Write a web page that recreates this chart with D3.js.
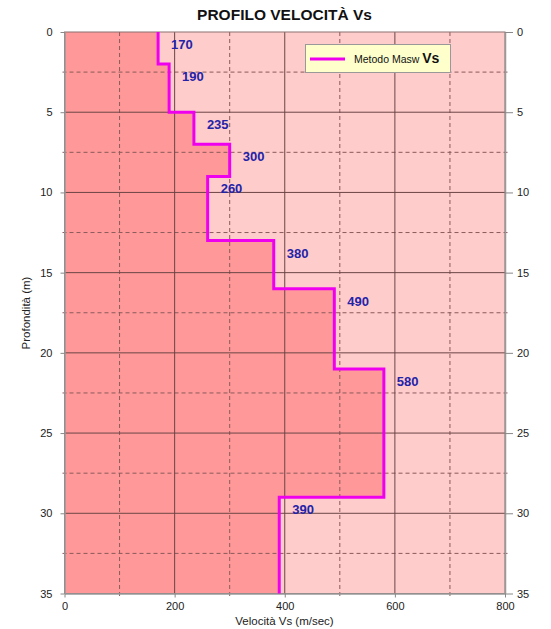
<!DOCTYPE html>
<html><head><meta charset="utf-8">
<script src="https://cdn.jsdelivr.net/npm/d3@7"></script>
<style>body{margin:0;background:#fff;} svg{display:block;font-family:"Liberation Sans",Arial,sans-serif;}</style>
</head><body>
<svg id="c" width="551" height="629"></svg>
<script>
// Data
const layerTop = [0, 2, 5, 7, 9, 13, 16, 21, 29];
const layerBottom = [2, 5, 7, 9, 13, 16, 21, 29, 35];
const vsValues = [170, 190, 235, 300, 260, 380, 490, 580, 390];
const xTicks = [0, 200, 400, 600, 800];
const xMinor = [100, 300, 500, 700];
const yTicks = [0, 5, 10, 15, 20, 25, 30, 35];
const yMinor = [2.5, 7.5, 12.5, 17.5, 22.5, 27.5, 32.5];
const titleText = "PROFILO VELOCITÀ Vs";
const xTitle = "Velocità Vs (m/sec)";
const yTitle = "Profondità (m)";
const legendText = "Metodo Masw";

const svg = d3.select("#c");
const L = 64.5, R = 505, T = 32, B = 593.5;
const x = d3.scaleLinear().domain([0, 800]).range([L, R]);
const y = d3.scaleLinear().domain([0, 35]).range([T, B]);

// backgrounds
svg.append("rect").attr("x", L).attr("y", T).attr("width", R - L).attr("height", B - T).attr("fill", "#FFCCCC");

// step points
const pts = [];
vsValues.forEach((v, i) => { pts.push([v, layerTop[i]]); pts.push([v, layerBottom[i]]); });
const area = [[0, 0], ...pts, [0, 35]];
svg.append("path")
  .attr("d", d3.line().x(d => x(d[0])).y(d => y(d[1]))(area) + "Z")
  .attr("fill", "#FF9999");

// grid
const g = svg.append("g");
xMinor.forEach(v => g.append("line").attr("x1", x(v)).attr("x2", x(v)).attr("y1", T).attr("y2", B + 4)
  .attr("stroke", "#8a5a5a").attr("stroke-width", 1).attr("stroke-dasharray", "4,3"));
yMinor.forEach(v => g.append("line").attr("x1", L - 2).attr("x2", R + 3).attr("y1", y(v)).attr("y2", y(v))
  .attr("stroke", "#8a5a5a").attr("stroke-width", 1).attr("stroke-dasharray", "4,3"));
xTicks.slice(1, -1).forEach(v => g.append("line").attr("x1", x(v)).attr("x2", x(v)).attr("y1", T).attr("y2", B)
  .attr("stroke", "#6b4545").attr("stroke-width", 1));
yTicks.slice(1, -1).forEach(v => g.append("line").attr("x1", L).attr("x2", R).attr("y1", y(v)).attr("y2", y(v))
  .attr("stroke", "#6b4545").attr("stroke-width", 1));

// frame
svg.append("rect").attr("x", L).attr("y", T).attr("width", R - L).attr("height", B - T)
  .attr("fill", "none").attr("stroke", "#8c7070").attr("stroke-width", 1);

// axes
const axStyle = sel => {
  sel.selectAll(".domain").attr("stroke", "#999").attr("stroke-width", 1.5);
  sel.selectAll(".tick line").attr("stroke", "#888");
  sel.selectAll(".tick text").attr("fill", "#222").style("font-size", "11px").style("font-family", "Liberation Sans, Arial, sans-serif");
};
svg.append("g").attr("transform", `translate(0,${B})`)
  .call(d3.axisBottom(x).tickValues(xTicks).tickSize(4).tickSizeOuter(0).tickPadding(5)).call(axStyle);
svg.append("g").attr("transform", `translate(${L},0)`)
  .call(d3.axisLeft(y).tickValues(yTicks).tickSize(4).tickSizeOuter(0).tickPadding(8)).call(axStyle);
svg.append("g").attr("transform", `translate(${R},0)`)
  .call(d3.axisRight(y).tickValues(yTicks).tickSize(8).tickSizeOuter(0).tickPadding(4)).call(axStyle);

// step line
svg.append("path")
  .attr("d", d3.line().x(d => x(d[0])).y(d => y(d[1]))(pts))
  .attr("fill", "none").attr("stroke", "#EE00EE").attr("stroke-width", 3);

// value labels
vsValues.forEach((v, i) => {
  svg.append("text").attr("x", x(v) + 13).attr("y", y(layerTop[i]) + 17)
    .attr("fill", "#2323A8").style("font-size", "13px").style("font-weight", "bold").text(v);
});

// titles
svg.append("text").attr("x", 284.5).attr("y", 20).attr("text-anchor", "middle")
  .style("font-size", "15.5px").style("font-weight", "bold").attr("fill", "#111").text(titleText);
svg.append("text").attr("x", 284.5).attr("y", 625).attr("text-anchor", "middle")
  .style("font-size", "11.5px").attr("fill", "#222").text(xTitle);
svg.append("text").attr("transform", "translate(30,313) rotate(-90)").attr("text-anchor", "middle")
  .style("font-size", "11.5px").attr("fill", "#222").text(yTitle);

// legend
const lg = svg.append("g");
lg.append("rect").attr("x", 305.5).attr("y", 44.5).attr("width", 145).attr("height", 28)
  .attr("fill", "#FFFFCC").attr("stroke", "#999").attr("stroke-width", 1);
lg.append("line").attr("x1", 310).attr("x2", 345).attr("y1", 59).attr("y2", 59)
  .attr("stroke", "#EE00EE").attr("stroke-width", 3);
const lt = lg.append("text").attr("x", 354).attr("y", 63).attr("fill", "#111").style("font-size", "10.5px");
lt.append("tspan").text(legendText + " ");
lt.append("tspan").style("font-size", "14px").style("font-weight", "bold").text("Vs");
</script>
</body></html>
